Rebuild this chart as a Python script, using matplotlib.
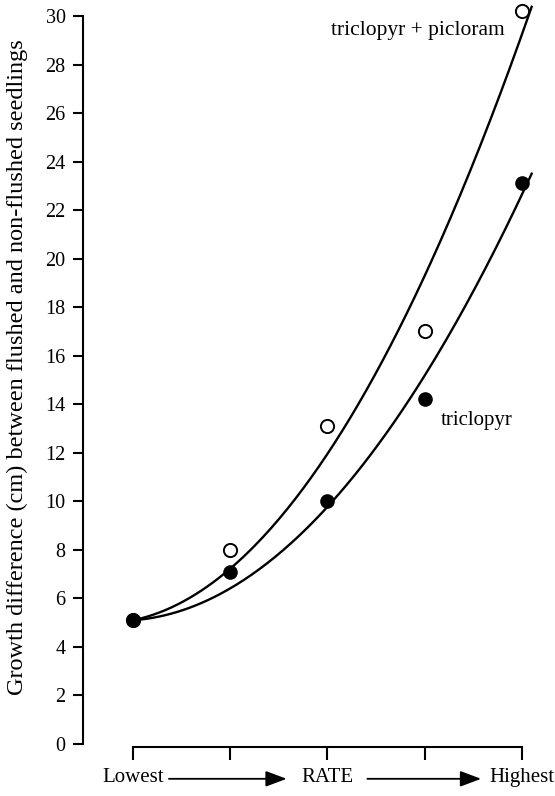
import matplotlib
matplotlib.use("Agg")
import matplotlib.pyplot as plt
import numpy as np

plt.rcParams['font.family'] = ['Liberation Serif', 'DejaVu Serif']

# rate levels (1 = lowest ... 5 = highest)
rate = [1, 2, 3, 4, 5]
tri_pic = [5.1, 8.0, 13.1, 17.0, 30.2]   # open circles
tri = [5.1, 7.1, 10.0, 14.2, 23.1]       # filled circles
rate_labels = ["Lowest", "", "RATE", "", "Highest"]
yticks = list(range(0, 31, 2))

fig = plt.figure(figsize=(5.55, 7.96), dpi=100)
ax = fig.add_axes((83 / 555, 49.3 / 796, 472 / 555, 746.7 / 796))
ax.set_xlim(0.486, 5.34)
ax.set_ylim(-0.11, 30.66)


def fit(y, x_end):
    # quadratic fit, pinned to the first point
    w = [20, 1, 1, 1, 1]
    c = np.polyfit(rate, y, 2, w=w)
    xs = np.linspace(1.03, x_end, 200)
    return xs, np.polyval(c, xs)


xs, ys = fit(tri_pic, 5.1)
ax.plot(xs, ys, color='black', lw=1.7, clip_on=False)
xs, ys = fit(tri, 5.1)
ax.plot(xs, ys, color='black', lw=1.7, clip_on=False)

ax.plot(rate, tri_pic, 'o', ms=9.5, mfc='white', mec='black', mew=1.4, clip_on=False, zorder=3)
ax.plot(rate, tri, 'o', ms=9.5, mfc='black', mec='black', clip_on=False, zorder=3)

ax.text(3.04, 29.4, "triclopyr + picloram", fontsize=15.5, va='center', ha='left')
ax.text(4.16, 13.35, "triclopyr", fontsize=15, va='center', ha='left')

for s in ['top', 'right']:
    ax.spines[s].set_visible(False)
ax.spines['left'].set_bounds(0, 30)
ax.spines['bottom'].set_bounds(1, 5)
ax.spines['left'].set_linewidth(1.5)
ax.spines['bottom'].set_linewidth(1.5)

ax.set_yticks(yticks)
ax.set_yticklabels([str(v) for v in yticks], fontsize=14.5)
ax.tick_params(axis='y', direction='out', length=7.5, width=1.5, pad=5)
ax.set_xticks(rate)
ax.set_xticklabels(rate_labels, fontsize=15)
ax.tick_params(axis='x', direction='out', length=9, width=1.5, pad=6)

ax.set_ylabel("Growth difference (cm) between flushed and non-flushed seedlings", fontsize=17.5)
ax.yaxis.set_label_coords(-0.116, 0.508)

tr = ax.get_xaxis_transform()
for a, b in [(1.37, 2.58), (3.41, 4.58)]:
    ax.annotate('', xy=(b, -0.043), xytext=(a, -0.043), xycoords=tr, textcoords=tr,
                arrowprops=dict(arrowstyle='-|>,head_length=0.8,head_width=0.3', lw=1.3,
                                color='black', mutation_scale=16, shrinkA=0, shrinkB=0),
                annotation_clip=False)

fig.savefig("out.png", dpi=100)
